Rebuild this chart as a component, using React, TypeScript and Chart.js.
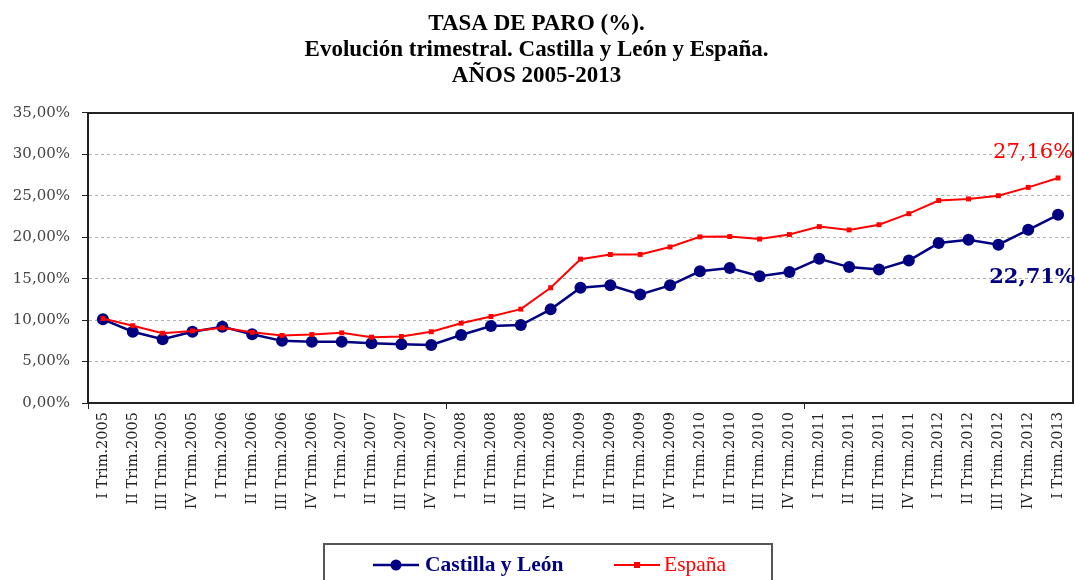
import React, { useEffect, useRef } from "react";
import { Chart, registerables } from "chart.js";

Chart.register(...registerables);

const categories: string[] = [
  "I Trim.2005", "II Trim.2005", "III Trim.2005", "IV Trim.2005",
  "I Trim.2006", "II Trim.2006", "III Trim.2006", "IV Trim.2006",
  "I Trim.2007", "II Trim.2007", "III Trim.2007", "IV Trim.2007",
  "I Trim.2008", "II Trim.2008", "III Trim.2008", "IV Trim.2008",
  "I Trim.2009", "II Trim.2009", "III Trim.2009", "IV Trim.2009",
  "I Trim.2010", "II Trim.2010", "III Trim.2010", "IV Trim.2010",
  "I Trim.2011", "II Trim.2011", "III Trim.2011", "IV Trim.2011",
  "I Trim.2012", "II Trim.2012", "III Trim.2012", "IV Trim.2012",
  "I Trim.2013",
];

const castillaLeon: number[] = [
  10.1, 8.6, 7.7, 8.6, 9.2, 8.3, 7.5, 7.4, 7.4, 7.2, 7.1, 7.0,
  8.2, 9.3, 9.4, 11.3, 13.9, 14.2, 13.1, 14.2, 15.9, 16.3, 15.3, 15.8,
  17.4, 16.4, 16.1, 17.2, 19.3, 19.7, 19.1, 20.9, 22.71,
];

const espana: number[] = [
  10.19, 9.33, 8.42, 8.70, 9.07, 8.53, 8.15, 8.26, 8.47, 7.95, 8.03, 8.60,
  9.63, 10.44, 11.33, 13.91, 17.36, 17.92, 17.93, 18.83, 20.05, 20.09, 19.79, 20.33,
  21.29, 20.89, 21.52, 22.85, 24.44, 24.63, 25.02, 26.02, 27.16,
];

const yTicks: number[] = [0, 5, 10, 15, 20, 25, 30, 35];

const titleLines: string[] = [
  "TASA DE PARO (%).",
  "Evolución trimestral. Castilla y León y España.",
  "AÑOS 2005-2013",
];

const seriesNames: string[] = ["Castilla y León", "España"];

const NAVY = "#000080";
const RED = "#ff0000";
const fmt = (v: number) => v.toFixed(2).replace(".", ",") + "%";

const framePlugin = {
  id: "frame",
  afterDraw(chart: any) {
    const { ctx, chartArea } = chart;
    ctx.save();
    ctx.strokeStyle = "#222";
    ctx.lineWidth = 2;
    ctx.strokeRect(chartArea.left, chartArea.top, chartArea.right - chartArea.left, chartArea.bottom - chartArea.top);
    const metaRed = chart.getDatasetMeta(1);
    const metaBlue = chart.getDatasetMeta(0);
    const pr = metaRed.data[metaRed.data.length - 1];
    const pb = metaBlue.data[metaBlue.data.length - 1];
    ctx.textAlign = "center";
    ctx.textBaseline = "middle";
    ctx.font = "21px 'DejaVu Serif'";
    ctx.fillStyle = RED;
    ctx.fillText(fmt(espana[espana.length - 1]), pr.x - 25, pr.y - 25);
    ctx.font = "bold 21px 'DejaVu Serif'";
    ctx.fillStyle = NAVY;
    ctx.fillText(fmt(castillaLeon[castillaLeon.length - 1]), pr.x - 26, pb.y + 63);
    ctx.restore();
  },
};

export default function App() {
  const ref = useRef<HTMLCanvasElement>(null);
  useEffect(() => {
    if (!ref.current) return;
    const chart = new Chart(ref.current, {
      type: "line",
      data: {
        labels: categories,
        datasets: [
          {
            label: seriesNames[0],
            data: castillaLeon,
            borderColor: NAVY,
            backgroundColor: NAVY,
            borderWidth: 2.5,
            pointStyle: "circle",
            pointRadius: 6,
            pointBorderWidth: 0,
            tension: 0,
            order: 1,
          },
          {
            label: seriesNames[1],
            data: espana,
            borderColor: RED,
            backgroundColor: RED,
            borderWidth: 2,
            pointStyle: "rect",
            pointRadius: 3.5,
            pointBorderWidth: 0,
            tension: 0,
            order: 0,
          },
        ],
      },
      options: {
        animation: false,
        responsive: false,
        layout: { autoPadding: false, padding: { left: 0, right: 2, top: 0, bottom: 50 } },
        plugins: {
          legend: { display: false },
          tooltip: { enabled: false },
          title: {
            display: true,
            text: titleLines,
            color: "#000",
            font: { family: "'Liberation Serif'", size: 23, weight: "bold", lineHeight: 26 / 23 },
            padding: { top: 11, bottom: 24 },
          },
        },
        scales: {
          x: {
            offset: true,
            grid: {
              offset: true,
              drawOnChartArea: false,
              drawTicks: true,
              tickLength: 6,
              color: "rgba(0,0,0,0)",
              tickColor: (c: any) => (c.index % 12 === 0 ? "#222" : "rgba(0,0,0,0)"),
              tickWidth: 1,
            },
            border: { display: true, color: "#222", width: 2 },
            ticks: {
              autoSkip: false,
              maxRotation: 90,
              minRotation: 90,
              padding: 3,
              color: "#222",
              font: { family: "'DejaVu Serif'", size: 14.5 },
            },
            afterFit: (s: any) => { s.height = 127; s.paddingLeft = 0; s.paddingRight = 0; },
          },
          y: {
            min: 0,
            max: 35,
            afterBuildTicks: (s: any) => { s.ticks = yTicks.map((v) => ({ value: v })); },
            grid: {
              color: (c: any) => (c.tick && (c.tick.value === 0 || c.tick.value === 35) ? "rgba(0,0,0,0)" : "#b0b0b0"),
              tickColor: "#222",
              tickLength: 6,
              lineWidth: 1,
            },
            border: { display: true, color: "#222", width: 2, dash: [3, 3] },
            ticks: {
              padding: 12,
              color: "#444",
              font: { family: "'DejaVu Serif'", size: 15 },
              callback: (v: any) => fmt(Number(v)),
            },
            afterFit: (s: any) => { s.width = 88; },
          },
        },
      },
      plugins: [framePlugin],
    });
    return () => chart.destroy();
  }, []);

  return (
    <div style={{ position: "absolute", left: 0, top: 0, width: 1075, height: 580, overflow: "hidden", background: "#fff" }}>
      <canvas ref={ref} width={1075} height={580} style={{ display: "block" }} />
      <div
        style={{
          position: "absolute", left: 323, top: 543, width: 450, height: 60,
          border: "2px solid #555", boxSizing: "border-box",
          fontFamily: "'Liberation Serif'", fontSize: 21.5,
        }}
      >
        <div style={{ position: "absolute", left: 48, top: 7, display: "flex", alignItems: "center" }}>
          <svg width="46" height="14" style={{ marginRight: 6 }}>
            <line x1="0" y1="7" x2="46" y2="7" stroke={NAVY} strokeWidth="2.5" />
            <circle cx="23" cy="7" r="5.5" fill={NAVY} />
          </svg>
          <span style={{ color: NAVY, fontWeight: "bold" }}>{seriesNames[0]}</span>
        </div>
        <div style={{ position: "absolute", left: 289, top: 7, display: "flex", alignItems: "center" }}>
          <svg width="46" height="14" style={{ marginRight: 4 }}>
            <line x1="0" y1="7" x2="46" y2="7" stroke={RED} strokeWidth="2" />
            <rect x="20" y="4" width="6" height="6" fill={RED} />
          </svg>
          <span style={{ color: RED }}>{seriesNames[1]}</span>
        </div>
      </div>
    </div>
  );
}
